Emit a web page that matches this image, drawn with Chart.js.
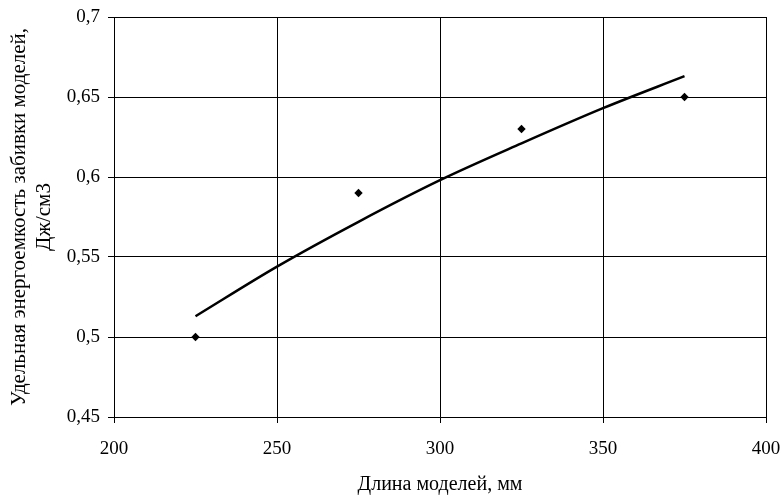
<!DOCTYPE html>
<html>
<head>
<meta charset="utf-8">
<script src="https://cdn.jsdelivr.net/npm/chart.js@4/dist/chart.umd.min.js"></script>
<style>
  html, body { margin: 0; padding: 0; background: #fff; }
  #wrap { width: 784px; height: 497px; }
</style>
</head>
<body>
<div id="wrap"><canvas id="c" width="784" height="497"></canvas></div>
<script>
// Measured points: model length (mm) vs specific driving energy (J/cm3)
const modelLength = [225, 275, 325, 375];
const specificEnergy = [0.50, 0.59, 0.63, 0.65];

// Logarithmic trend line, sampled along the length range
const trendLength = [225, 250, 275, 300, 325, 350, 375];
const trendEnergy = [0.513, 0.544, 0.572, 0.598, 0.621, 0.643, 0.663];

// Axis tick labels (comma as decimal separator)
const xTickLabels = ['200', '250', '300', '350', '400'];
const yTickLabels = ['0,45', '0,5', '0,55', '0,6', '0,65', '0,7'];

const xTitle = 'Длина моделей, мм';
const yTitle = ['Удельная энергоемкость забивки моделей,', 'Дж/см3'];

const serif = "'Liberation Serif', 'Times New Roman', serif";

const toXY = (xs, ys) => xs.map((x, i) => ({ x: x, y: ys[i] }));

new Chart(document.getElementById('c'), {
  type: 'scatter',
  data: {
    datasets: [
      {
        label: 'trend',
        data: toXY(trendLength, trendEnergy),
        showLine: true,
        borderColor: '#000',
        borderWidth: 2.5,
        pointRadius: 0,
        cubicInterpolationMode: 'monotone',
        fill: false
      },
      {
        label: 'data',
        data: toXY(modelLength, specificEnergy),
        showLine: false,
        pointStyle: 'rectRot',
        pointRadius: 4.2,
        pointBorderWidth: 0,
        backgroundColor: '#000',
        borderColor: '#000'
      }
    ]
  },
  options: {
    responsive: false,
    animation: false,
    devicePixelRatio: 1,
    layout: { padding: { left: 0, top: 17, right: 18, bottom: 0 } },
    plugins: {
      legend: { display: false },
      tooltip: { enabled: false }
    },
    scales: {
      x: {
        type: 'linear',
        min: 200,
        max: 400,
        ticks: {
          stepSize: 50,
          color: '#000',
          padding: 15,
          maxRotation: 0,
          font: { family: serif, size: 19 },
          callback: (v, i) => xTickLabels[i]
        },
        grid: { color: '#000', lineWidth: 1, tickLength: 6, drawTicks: true },
        border: { display: true, color: '#000', width: 1 },
        title: {
          display: true,
          text: xTitle,
          color: '#000',
          font: { family: serif, size: 20, lineHeight: 1.2 },
          padding: { top: 0, bottom: 0 }
        },
        afterFit: (s) => { s.height = 80; s.paddingLeft = 0; s.paddingRight = 0; }
      },
      y: {
        type: 'linear',
        min: 0.45,
        max: 0.7,
        ticks: {
          stepSize: 0.05,
          color: '#000',
          padding: 8,
          font: { family: serif, size: 19 },
          callback: (v, i) => yTickLabels[i]
        },
        grid: { color: '#000', lineWidth: 1, tickLength: 6, drawTicks: true },
        border: { display: true, color: '#000', width: 1 },
        title: {
          display: true,
          text: yTitle,
          color: '#000',
          font: { family: serif, size: 21, lineHeight: 1.2 },
          padding: { top: 7, bottom: 0 }
        },
        afterFit: (s) => { s.width = 114; s.paddingTop = 0; s.paddingBottom = 0; }
      }
    }
  }
});
</script>
</body>
</html>
